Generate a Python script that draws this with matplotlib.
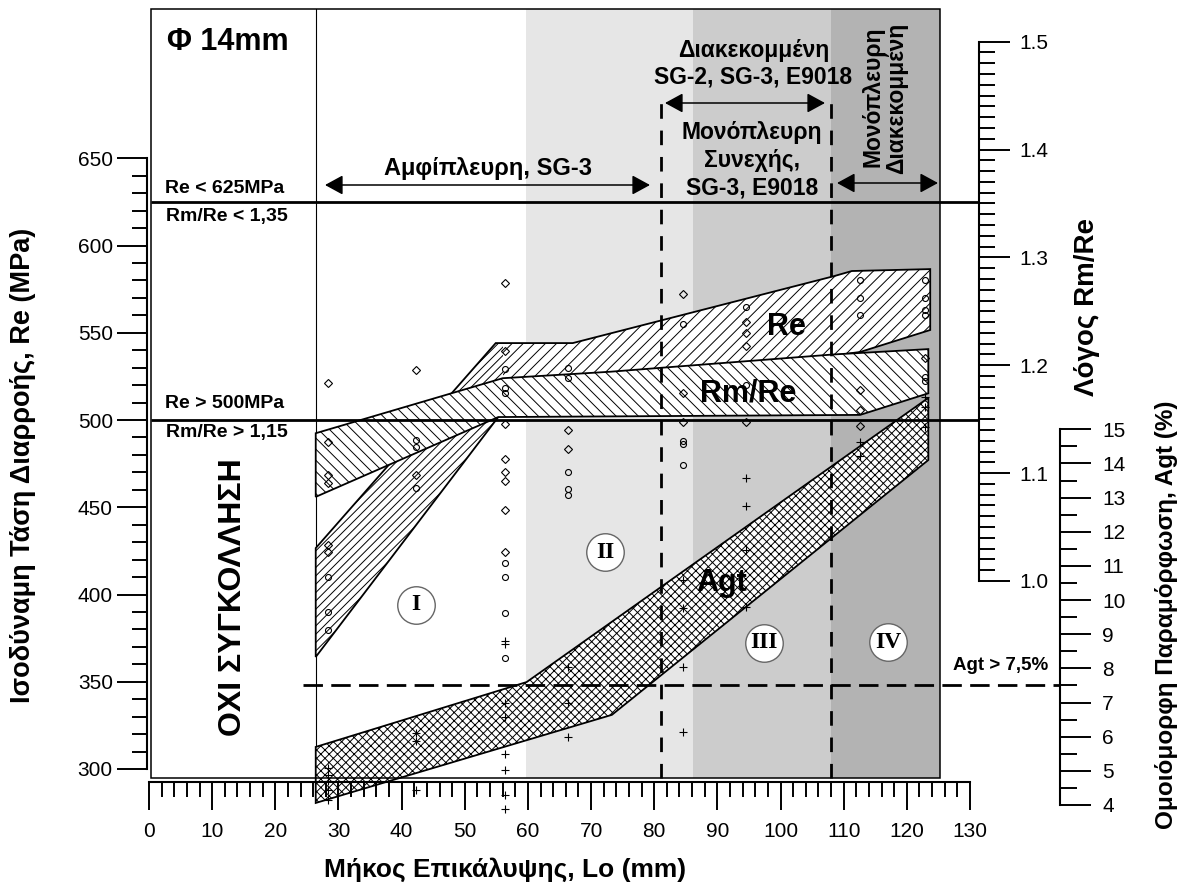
import matplotlib
matplotlib.use('Agg')
import numpy as np
import matplotlib.pyplot as plt
import matplotlib.transforms as mtransforms
from matplotlib.patches import Polygon, Rectangle

plt.rcParams['font.family'] = ['Liberation Sans', 'DejaVu Sans']
plt.rcParams['hatch.linewidth'] = 0.7
plt.rcParams['hatch.color'] = 'black'
plt.rcParams['lines.scale_dashes'] = False

# ---------------------------------------------------------------- data
WELD_START = 26.4                     # mm, start of welded specimens
ZONE_EDGES = [59.7, 86.1, 108.0]      # mm, start of shaded zones
ZONE_COLORS = ['#e6e6e6', '#cccccc', '#b3b3b3']
SPLIT_LINES = [81.0, 108.0]           # mm, dashed vertical limits
RE_LIMITS = [625, 500]                # MPa
AGT_LIMIT = 7.5                       # %

# Re band (Lo mm, Re MPa)
RE_BAND_L = [26.4, 54.9, 67.1, 108.5, 111.3, 123.7, 123.7, 112.6, 73.0, 56.0, 55.3, 26.4]
RE_BAND_V = [426.6, 544.1, 544.1, 582.5, 585.4, 586.5, 551.6, 539.0, 520.0, 515.0, 501.7, 364.2]
# Rm/Re band (Lo mm, ratio)
RM_BAND_L = [26.4, 56.0, 73.0, 108.3, 123.4, 123.4, 112.6, 55.3, 26.4]
RM_BAND_V = [1.137, 1.188, 1.194, 1.210, 1.215, 1.174, 1.154, 1.152, 1.078]
# Agt band (Lo mm, %)
AGT_BAND_L = [26.4, 59.8, 123.4, 123.4, 73.3, 26.4]
AGT_BAND_V = [5.70, 7.60, 15.92, 14.10, 6.64, 4.06]

# measured points: Re (circles, MPa)
RE_PTS_L = [28.3, 28.3, 28.3,
            42.3, 42.3, 42.3,
            56.4, 56.4, 56.4, 56.4, 56.4, 56.4, 56.4,
            66.3, 66.3, 66.3, 66.3, 66.3,
            84.6, 84.6, 84.6, 84.6,
            94.5, 94.5,
            112.6, 112.6, 112.6,
            122.9, 122.9, 122.9, 122.9, 122.9, 122.9]
RE_PTS_V = [410.0, 389.9, 379.7,
            488.5, 484.5, 461.0,
            529.1, 518.2, 515.6, 417.9, 409.9, 389.6, 363.8,
            529.6, 523.9, 470.0, 460.3, 457.0,
            555.3, 488.0, 486.1, 474.2,
            564.9, 520.1,
            580.0, 569.7, 560.2,
            580.0, 569.7, 563.0, 560.2, 524.8, 522.5]
# Rm/Re (diamonds, ratio)
RM_PTS_L = [28.3, 28.3, 28.3, 28.3, 28.3, 28.3,
            42.3, 42.3,
            56.4, 56.4, 56.4, 56.4, 56.4, 56.4, 56.4, 56.4,
            66.3, 66.3,
            84.6, 84.6, 84.6,
            94.5, 94.5, 94.5, 94.5,
            112.6, 112.6, 112.6,
            122.9]
RM_PTS_V = [1.184, 1.129, 1.098, 1.091, 1.033, 1.027,
            1.196, 1.098,
            1.276, 1.213, 1.146, 1.113, 1.101, 1.093, 1.066, 1.027,
            1.140, 1.122,
            1.266, 1.174, 1.147,
            1.240, 1.230, 1.218, 1.147,
            1.177, 1.159, 1.144,
            1.207]
# Agt (plus, %)
AGT_PTS_L = [28.3, 28.3, 28.3, 28.3, 28.3,
             42.3, 42.3, 42.3,
             56.4, 56.4, 56.4, 56.4, 56.4, 56.4, 56.4, 56.4,
             66.3, 66.3, 66.3,
             84.6, 84.6, 84.6, 84.6,
             94.5, 94.5, 94.5, 94.5,
             112.6, 112.6,
             122.9, 122.9, 122.9]
AGT_PTS_V = [5.08, 4.88, 4.70, 4.44, 4.15,
             6.11, 5.87, 4.44,
             8.80, 8.71, 6.99, 6.58, 5.49, 5.02, 4.29, 3.88,
             8.04, 6.99, 5.99,
             10.59, 9.77, 8.04, 6.14,
             13.57, 12.75, 11.47, 9.80,
             14.63, 14.22,
             15.95, 15.65, 15.07]

X_TICKS = list(range(0, 131, 10))
RE_TICKS = list(range(300, 651, 50))
RM_TICKS = [1.0, 1.1, 1.2, 1.3, 1.4, 1.5]
AGT_TICKS = list(range(4, 16))
ZONE_NAMES = ['I', 'II', 'III', 'IV']

# ---------------------------------------------------------------- layout
W, H = 1185, 893
fig = plt.figure(figsize=(W / 100, H / 100), dpi=100)

X0, X130 = 149.0, 970.0
M300, M650 = 769.0, 158.3
R10, R15 = 581.0, 41.7
A4, A15 = 805.0, 429.3


def px_L(px):
    return (px - X0) * 130.0 / (X130 - X0)


def py_M(py):
    return 300 + (M300 - py) * 350.0 / (M300 - M650)


def py_R(py):
    return 1.0 + (R10 - py) * 0.5 / (R10 - R15)


def py_A(py):
    return 4 + (A4 - py) * 11.0 / (A4 - A15)


FL, FR, FT, FB = 151, 940, 9, 778
AB = 830   # bottom of the (invisible) Agt axes box
ax = fig.add_axes([FL / W, 1 - FB / H, (FR - FL) / W, (FB - FT) / H])
ax_r = fig.add_axes([FL / W, 1 - FB / H, (FR - FL) / W, (FB - FT) / H])
ax_a = fig.add_axes([FL / W, 1 - AB / H, (FR - FL) / W, (AB - FT) / H])
for a in (ax_r, ax_a):
    a.patch.set_visible(False)
    a.set_xticks([])
    a.yaxis.tick_right()


def axfrac(px):
    return (px - FL) / (FR - FL)


for a in (ax, ax_r, ax_a):
    for s in a.spines.values():
        s.set_visible(False)
ax.set_xticks([])

# left axis
sp = ax.spines['left']
sp.set_visible(True)
sp.set_position(('axes', axfrac(147)))
sp.set_bounds(300, 650)
sp.set_linewidth(1.5)
ax.set_yticks(RE_TICKS)
ax.set_yticks(list(range(300, 651, 10)), minor=True)
ax.tick_params(axis='y', which='major', direction='out', length=21.6, width=1.4,
               labelsize=15, pad=3)
ax.tick_params(axis='y', which='minor', direction='out', length=10.8, width=1.4)

# Rm/Re axis
sp = ax_r.spines['right']
sp.set_visible(True)
sp.set_position(('axes', axfrac(979)))
sp.set_bounds(1.0, 1.5)
sp.set_linewidth(1.5)
ax_r.set_yticks(RM_TICKS)
ax_r.set_yticklabels(['%.1f' % v for v in RM_TICKS])
ax_r.set_yticks(list(np.round(np.arange(1.0, 1.5001, 0.01), 2)), minor=True)
ax_r.tick_params(axis='y', which='major', direction='out', length=22.3, width=1.4,
                 labelsize=15, pad=7)
ax_r.tick_params(axis='y', which='minor', direction='out', length=11.5, width=1.4)

# Agt axis
sp = ax_a.spines['right']
sp.set_visible(True)
sp.set_position(('axes', axfrac(1060)))
sp.set_bounds(4, 15)
sp.set_linewidth(1.5)
ax_a.set_yticks(AGT_TICKS)
ax_a.set_yticks(list(np.arange(4, 15.01, 0.5)), minor=True)
ax_a.tick_params(axis='y', which='major', direction='out', length=22.3, width=1.4,
                 labelsize=15, pad=8)
ax_a.tick_params(axis='y', which='minor', direction='out', length=12, width=1.4)

# limits (after ticks, which may expand them)
xl = (px_L(FL), px_L(FR))
for a in (ax, ax_r, ax_a):
    a.set_xlim(*xl)
ax.set_ylim(py_M(FB), py_M(FT))
ax_r.set_ylim(py_R(FB), py_R(FT))
ax_a.set_ylim(py_A(AB), py_A(FT))

# bottom axis
ax_x = fig.add_axes([X0 / W, 1 - 782 / H, (X130 - X0) / W, 0.0005])
ax_x.set_yticks([])
ax_x.patch.set_visible(False)
for k, s in ax_x.spines.items():
    s.set_visible(k == 'bottom')
ax_x.spines['bottom'].set_linewidth(1.5)
ax_x.set_xticks(X_TICKS)
ax_x.set_xticks(list(range(0, 131, 2)), minor=True)
ax_x.set_xlim(0, 130)
ax_x.tick_params(axis='x', which='major', direction='out', length=20.5, width=1.4,
                 labelsize=15, pad=8)
ax_x.tick_params(axis='x', which='minor', direction='out', length=10.8, width=1.4)

# ---------------------------------------------------------------- background
edges = ZONE_EDGES + [ax.get_xlim()[1]]
for i, c in enumerate(ZONE_COLORS):
    ax.axvspan(edges[i], edges[i + 1], color=c, lw=0, zorder=0)
ax.axvline(WELD_START, color='black', lw=0.8, zorder=1)

# ---------------------------------------------------------------- bands
re_xy = np.column_stack([RE_BAND_L, RE_BAND_V])
p = Polygon(re_xy, closed=True, facecolor='white', edgecolor='black', lw=0,
            hatch='///', zorder=2)
ax.add_patch(p)
p2 = Polygon(re_xy, closed=True, facecolor='white', edgecolor='black', lw=0,
             hatch='////', zorder=2.05)
ax.add_patch(p2)
clip = Rectangle((0, 0), 56.0, 2000, transform=ax.transData)
p2.set_clip_path(clip)
ax.add_patch(Polygon(re_xy, closed=True, fill=False, edgecolor='black', lw=1.3,
                     zorder=2.1))

rm_xy = np.column_stack([RM_BAND_L, RM_BAND_V])
p = Polygon(rm_xy, closed=True, facecolor='white', edgecolor='black', lw=0,
            hatch='\\\\\\', transform=ax_r.transData, zorder=3)
ax.add_patch(p)
p.set_clip_on(False)
p = Polygon(rm_xy, closed=True, fill=False, edgecolor='black', lw=1.3,
            transform=ax_r.transData, zorder=3.1)
ax.add_patch(p)
p.set_clip_on(False)

agt_xy = np.column_stack([AGT_BAND_L, AGT_BAND_V])
p = Polygon(agt_xy, closed=True, facecolor='white', edgecolor='black', lw=0,
            hatch='xxxx', transform=ax_a.transData, zorder=3.5)
ax.add_patch(p)
p.set_clip_on(False)
p = Polygon(agt_xy, closed=True, fill=False, edgecolor='black', lw=1.3,
            transform=ax_a.transData, zorder=3.6)
ax.add_patch(p)
p.set_clip_on(False)

# ---------------------------------------------------------------- limit lines
tr_h = mtransforms.blended_transform_factory(ax.transAxes, ax.transData)
for v in RE_LIMITS:
    ax.plot([0, axfrac(979)], [v, v], transform=tr_h, color='black', lw=2.0,
            clip_on=False, zorder=5, solid_capstyle='butt')
tr_a = mtransforms.blended_transform_factory(ax.transAxes, ax_a.transData)
ax.plot([axfrac(303), axfrac(1060)], [AGT_LIMIT, AGT_LIMIT], transform=tr_a,
        color='black', lw=2.0, dashes=(14, 6), clip_on=False, zorder=5)
tr_v = mtransforms.blended_transform_factory(ax.transData, ax.transAxes)
for v in SPLIT_LINES:
    ax.plot([v, v], [0, (FB - 97) / (FB - FT)], transform=tr_v, color='black',
            lw=2.0, dashes=(10.5, 8.5), clip_on=False, zorder=5)

# ---------------------------------------------------------------- points
ax.plot(RE_PTS_L, RE_PTS_V, 'o', ms=4.3, mfc='none', mec='black', mew=0.8,
        clip_on=False, zorder=6)
ax.plot(RM_PTS_L, RM_PTS_V, 'D', ms=3.6, mfc='none', mec='black', mew=0.8,
        transform=ax_r.transData, clip_on=False, zorder=6)
ax.plot(AGT_PTS_L, AGT_PTS_V, '+', ms=6, mec='black', mew=0.8,
        transform=ax_a.transData, clip_on=False, zorder=6)

# ---------------------------------------------------------------- zone numerals
for name, (x, y) in zip(ZONE_NAMES, [(416, 605), (605, 552), (764, 643), (888, 642)]):
    ax.plot(px_L(x), py_M(y), 'o', ms=27, mfc='white', mec='#666666', mew=1.0,
            zorder=7, clip_on=False)
    ax.text(px_L(x), py_M(y), name, family=['Liberation Serif', 'DejaVu Serif'],
            fontweight='bold', fontsize=17, ha='center', va='center', zorder=8)

# ---------------------------------------------------------------- annotations


def t(x, y, s, size, ha='center', rot=0, weight='bold'):
    ax.text(px_L(x), py_M(y), s, fontsize=size, fontweight=weight, ha=ha,
            va='center', rotation=rot, zorder=8, clip_on=False)


def arrow(x1, x2, y):
    ax.annotate('', xy=(px_L(x2), py_M(y)), xytext=(px_L(x1), py_M(y)),
                arrowprops=dict(arrowstyle='<|-|>,head_length=0.55,head_width=0.3',
                                color='black', lw=1.1, shrinkA=0, shrinkB=0,
                                mutation_scale=20),
                annotation_clip=False, zorder=8)


t(228, 42, 'Φ 14mm', 22)
t(165, 189, 'Re < 625MPa', 14, ha='left')
t(166, 217, 'Rm/Re < 1,35', 14, ha='left')
t(165, 403, 'Re > 500MPa', 14, ha='left')
t(166, 433, 'Rm/Re > 1,15', 14, ha='left')
t(233, 597, 'ΟΧΙ ΣΥΓΚΟΛΛΗΣΗ', 23, rot=90)
t(488, 168, 'Αμφίπλευρη, SG-3', 17)
arrow(325, 650, 185)
t(754, 50, 'Διακεκομμένη', 16.5)
t(753, 77, 'SG-2, SG-3, E9018', 16.5)
arrow(665, 825, 103)
t(752, 133, 'Μονόπλευρη', 16.5)
t(752, 160, 'Συνεχής,', 16.5)
t(752, 188, 'SG-3, E9018', 16.5)
t(873, 97, 'Μονόπλευρη', 16.5, rot=90)
t(897, 98, 'Διακεκομμένη', 16.5, rot=90)
arrow(837, 938, 183)
t(786, 327, 'Re', 22)
t(748, 393, 'Rm/Re', 22)
t(722, 583, 'Agt', 22)
t(1001, 665, 'Agt > 7,5%', 13.5)

# frame
ax.add_patch(Rectangle((0, 0), 1, 1, transform=ax.transAxes, fill=False,
                       lw=1.1, edgecolor='black', zorder=9, clip_on=False))

# axis titles
fig.text(23 / W, 1 - 465 / H, 'Ισοδύναμη Τάση Διαρροής, Re (MPa)', rotation=90,
         fontsize=19.5, fontweight='bold', ha='center', va='center')
fig.text(505 / W, 1 - 870 / H, 'Μήκος Επικάλυψης, Lo (mm)',
         fontsize=19, fontweight='bold', ha='center', va='center')
fig.text(1087 / W, 1 - 307 / H, 'Λόγος Rm/Re', rotation=90,
         fontsize=20, fontweight='bold', ha='center', va='center')
fig.text(1167 / W, 1 - 615 / H, 'Ομοιόμορφη Παραμόρφωση, Agt (%)', rotation=90,
         fontsize=17.5, fontweight='bold', ha='center', va='center')

fig.savefig('out.png', dpi=100)
